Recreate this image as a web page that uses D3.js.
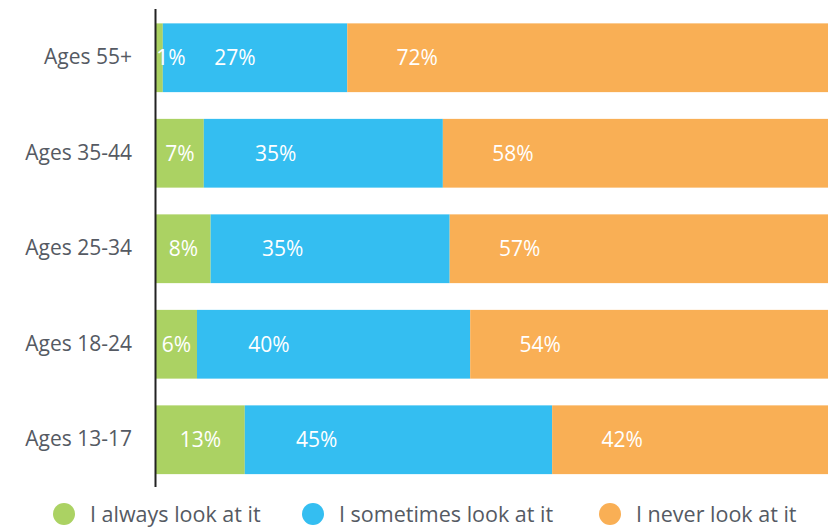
<!DOCTYPE html>
<meta charset="utf-8">
<script src="https://cdn.jsdelivr.net/npm/d3@7"></script>
<style>
    body { margin: 0; background: #fff; }
    text { font-family: "Open Sans", sans-serif; }
</style>
<div id="chart"></div>
<script>
    // data, percentages
    var ages = ["Ages 55+", "Ages 35-44", "Ages 25-34", "Ages 18-24", "Ages 13-17"];
    var always = [1, 7, 8, 6, 13];
    var sometimes = [27, 35, 35, 40, 45];
    var never = [72, 58, 57, 54, 42];
    var seriesNames = ["I always look at it", "I sometimes look at it", "I never look at it"];
    var colors = ["#abd263", "#34bef1", "#f9af55"];

    var W = 828, H = 529;
    var margin = { top: 23, left: 156 };

    var rows = ages.map(function(a, i) {
        return { age: a, always: always[i], sometimes: sometimes[i], never: never[i] };
    });
    var keys = ["always", "sometimes", "never"];
    var stacked = d3.stack().keys(keys)(rows);

    var svg = d3.select("#chart").append("svg")
        .attr("width", W).attr("height", H);

    // 100% runs a bit past the right edge of the picture
    var x = d3.scaleLinear().domain([0, 100]).range([margin.left, 839]);
    var y = d3.scaleBand().domain(ages).range([margin.top - 13, margin.top + 5 * 95.5 - 13]).paddingInner(0.28).paddingOuter(0.14);

    var layers = svg.append("g").selectAll("g")
        .data(stacked)
        .enter().append("g")
        .attr("fill", function(d, i) { return colors[i]; });

    layers.selectAll("rect")
        .data(function(d) { return d; })
        .enter().append("rect")
        .attr("x", function(d) { return x(d[0]); })
        .attr("y", function(d) { return y(d.data.age); })
        .attr("width", function(d) { return x(d[1]) - x(d[0]); })
        .attr("height", y.bandwidth());

    // value labels, drawn on top of all bars
    var labels = svg.append("g");
    stacked.forEach(function(layer, li) {
        labels.append("g").selectAll("text")
            .data(layer)
            .enter().append("text")
            .attr("x", function(d) {
                if (li == 0) return Math.max((x(d[0]) + x(d[1])) / 2, x(d[0]) + 15);
                return x(d[0]) + (li == 1 ? 72 : 70);
            })
            .attr("y", function(d) { return y(d.data.age) + y.bandwidth() / 2; })
            .attr("dy", "0.35em")
            .attr("text-anchor", "middle")
            .attr("fill", "#fff")
            .style("font-size", "21px")
            .text(function(d) { return (d[1] - d[0]) + "%"; });
    });

    // y axis
    var yAxis = svg.append("g")
        .attr("transform", "translate(" + margin.left + ",0)")
        .call(d3.axisLeft(y).tickSize(0).tickPadding(24));
    yAxis.select(".domain").remove();
    yAxis.selectAll("text")
        .attr("fill", "#555a63")
        .style("font-size", "21px");
    svg.append("line")
        .attr("x1", margin.left - 0.5).attr("x2", margin.left - 0.5)
        .attr("y1", 9).attr("y2", 487)
        .attr("stroke", "#222").attr("stroke-width", 2);

    // legend
    var legendX = [64, 313, 610];
    var legend = svg.append("g").selectAll("g")
        .data(seriesNames)
        .enter().append("g")
        .attr("transform", function(d, i) { return "translate(" + legendX[i] + ",514)"; });
    legend.append("circle")
        .attr("r", 11)
        .attr("fill", function(d, i) { return colors[i]; });
    legend.append("text")
        .attr("x", 26)
        .attr("dy", "0.35em")
        .attr("fill", "#555a63")
        .style("font-size", "21.5px")
        .text(function(d) { return d; });
</script>
